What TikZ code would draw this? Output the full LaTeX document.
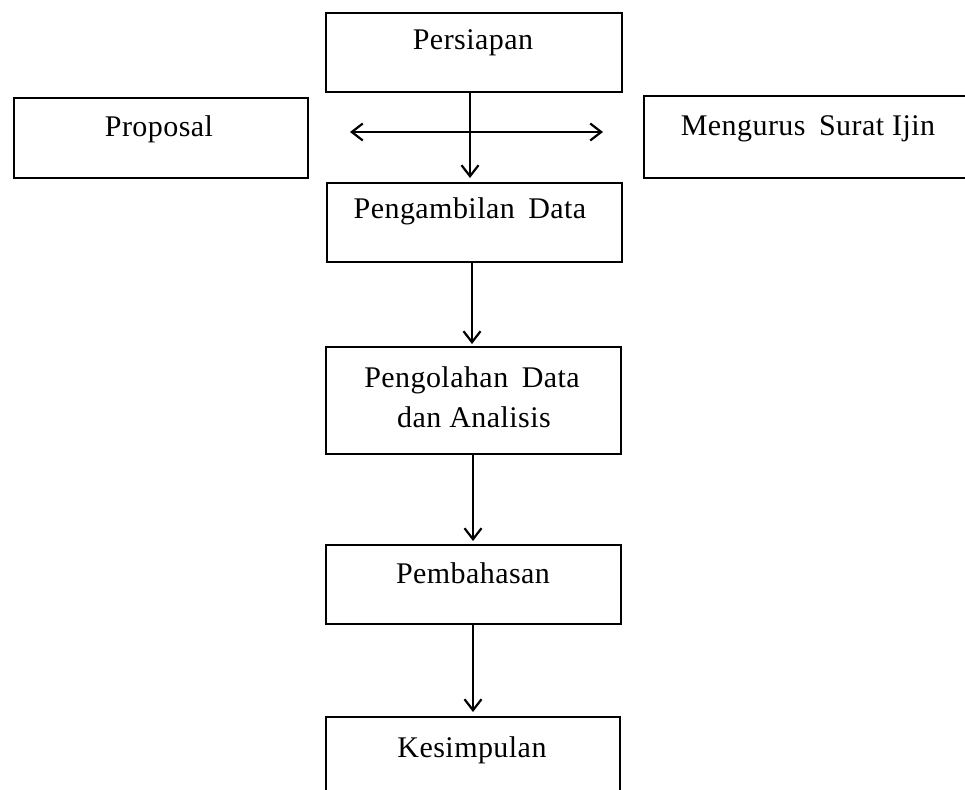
\documentclass[tikz,border=0pt]{standalone}
\usepackage{fontspec}
\setmainfont{Liberation Serif}[LetterSpace=1.5]
\usetikzlibrary{arrows.meta,calc}
\begin{document}
\begin{tikzpicture}[x=1pt,y=-1pt,
  box/.style={draw=black, line width=2pt, rectangle, inner sep=0pt, anchor=north west},
  lbl/.style={anchor=base, inner sep=0pt, font=\fontsize{30}{40}\selectfont},
  tip/.tip={Straight Barb[length=11pt,width=17pt,line width=2.2pt]},
  arr/.style={line width=2.2pt, -tip}]
\useasboundingbox (0,0) rectangle (965,789);
\begin{scope}
\clip (0,0) rectangle (965,789);
% boxes
\node[box, minimum width=296pt, minimum height=79pt] (persiapan) at (325,12) {};
\node[box, minimum width=294pt, minimum height=80pt] (proposal) at (13,97) {};
\node[box, minimum width=500pt, minimum height=82pt] (ijin) at (643,95) {};
\node[box, minimum width=295pt, minimum height=79pt] (ambil) at (326,182) {};
\node[box, minimum width=295pt, minimum height=107pt] (olah) at (325,346) {};
\node[box, minimum width=295pt, minimum height=79pt] (bahas) at (325,544) {};
\node[box, minimum width=294pt, minimum height=100pt] (simpul) at (325,716) {};
% labels
\node[lbl] (tpersiapan) at (473,50) {Persiapan};
\node[lbl] (tproposal) at (159,136) {Proposal};
\node[lbl] (tijin) at (808,135) {Mengurus\hspace{0.45em}Surat Ijin};
\node[lbl] (tambil) at (470,218) {Pengambilan\hspace{0.45em}Data};
\node[lbl] (tolaha) at (472,387) {Pengolahan\hspace{0.45em}Data};
\node[lbl] (tolahb) at (474,427) {dan Analisis};
\node[lbl] (tbahas) at (473,583) {Pembahasan};
\node[lbl] (tsimpul) at (472,757) {Kesimpulan};
% connectors
\coordinate (hl) at (350,132);
\coordinate (hr) at (603,132);
\draw[line width=2.2pt, tip-tip] (hl) -- (hr);
\draw[arr, shorten >=4pt] ([xshift=-4pt]persiapan.south) -- ([xshift=-4.5pt]ambil.north);
\draw[arr, shorten >=2pt] ([xshift=-2.5pt]ambil.south) -- ([xshift=-1.5pt]olah.north);
\draw[arr, shorten >=3pt] ([xshift=-0.5pt]olah.south) -- ([xshift=-0.5pt]bahas.north);
\draw[arr, shorten >=4pt] ([xshift=-0.5pt]bahas.south) -- (simpul.north);
\end{scope}
\end{tikzpicture}
\end{document}
